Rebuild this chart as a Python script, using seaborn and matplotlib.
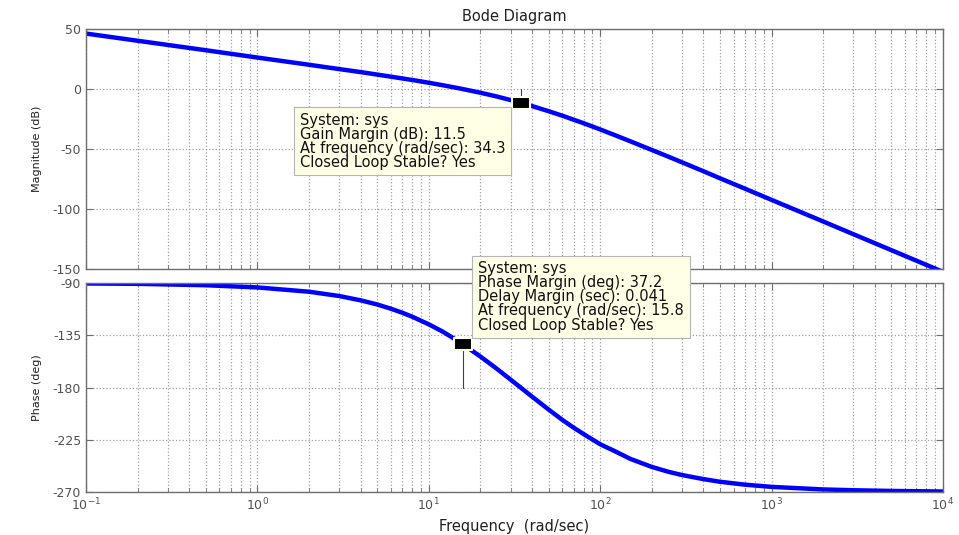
import numpy as np
import pandas as pd
import matplotlib
matplotlib.use('Agg')
import matplotlib.pyplot as plt
import seaborn as sns

# values
freq = [0.1, 0.2, 0.5, 1, 2, 3, 4, 5, 6, 7, 8, 10, 12, 15, 20, 25, 30, 34.3, 40, 50,
        60, 70, 80, 100, 120, 150, 200, 250, 300, 400, 500, 700, 1000, 2000, 3000,
        5000, 10000]
mag_db = [46.2, 40.2, 32.3, 26.2, 20.2, 16.6, 14.1, 12.0, 10.3, 8.8, 7.5, 5.2, 3.2, 0.6,
          -3.1, -6.3, -9.2, -11.5, -14.2, -18.5, -22.2, -25.6, -28.5, -33.7, -38.1,
          -43.6, -50.8, -56.4, -61.1, -68.5, -74.4, -83.1, -92.4, -110.4, -121.0,
          -134.3, -152.4]
phase_deg = [-90.4, -90.7, -91.9, -93.8, -97.5, -101.2, -104.9, -108.5, -112.1, -115.6,
             -119.0, -125.6, -131.7, -140.5, -153.3, -164.0, -173.2, -180.0, -187.8,
             -199.0, -207.8, -214.6, -220.1, -228.9, -234.4, -241.5, -248.4, -252.6,
             -255.4, -258.9, -261.2, -263.7, -265.6, -267.8, -268.5, -269.1, -269.6]

gm_freq, gm_db = 34.3, -11.5
pm_freq, pm_phase = 15.8, -142.8

mag_ticks = [50, 0, -50, -100, -150]
phase_ticks = [-90, -135, -180, -225, -270]

gm_text = "System: sys\nGain Margin (dB): 11.5\nAt frequency (rad/sec): 34.3\nClosed Loop Stable? Yes"
pm_text = ("System: sys\nPhase Margin (deg): 37.2\nDelay Margin (sec): 0.041\n"
           "At frequency (rad/sec): 15.8\nClosed Loop Stable? Yes")

df = pd.DataFrame({'freq': freq, 'mag': mag_db, 'phase': phase_deg})

sns.set_style('ticks')
plt.rcParams['font.family'] = ['DejaVu Sans']
plt.rcParams['axes.unicode_minus'] = False

fig = plt.figure(figsize=(9.59, 5.35), dpi=100)
ax1 = fig.add_axes([0.0897, 0.4972, 0.8936, 0.4486])
ax2 = fig.add_axes([0.0897, 0.0804, 0.8936, 0.3906])

sns.lineplot(data=df, x='freq', y='mag', ax=ax1, color='#0000ff', lw=3.2)
sns.lineplot(data=df, x='freq', y='phase', ax=ax2, color='#0000ff', lw=3.2)

edge = '#6e6e6e'
for ax, lims, ticks in [(ax1, (-150, 50), mag_ticks), (ax2, (-270, -90), phase_ticks)]:
    ax.set_xscale('log')
    ax.set_xlim(0.1, 1e4)
    ax.set_ylim(*lims)
    ax.set_yticks(ticks)
    ax.grid(True, which='both', axis='x', ls=':', color='#a0a0a0', lw=0.9)
    ax.grid(True, which='major', axis='y', ls=':', color='#a0a0a0', lw=0.9)
    ax.tick_params(which='both', direction='in', top=True, right=True,
                   colors=edge, labelcolor='#505050', labelsize=9)
    ax.tick_params(which='major', length=5)
    ax.tick_params(which='minor', length=3)
    for s in ax.spines.values():
        s.set_color(edge)
        s.set_linewidth(1.0)
    ax.set_xlabel('')

ax1.tick_params(labelbottom=False)
ax1.set_ylabel('Magnitude (dB)', fontsize=8, color='#202020', labelpad=8)
ax2.set_ylabel('Phase (deg)', fontsize=8, color='#202020', labelpad=8)
ax2.set_xlabel('Frequency  (rad/sec)', fontsize=10.5, color='#202020', labelpad=4)
ax1.set_title('Bode Diagram', fontsize=10.5, color='#202020', pad=6)

# margin markers and stems
box_marker = [(-1.6, -1), (1.6, -1), (1.6, 1), (-1.6, 1), (-1.6, -1)]
ax1.plot([gm_freq, gm_freq], [0, gm_db], color='#404040', lw=0.8, zorder=4)
ax1.plot([gm_freq], [gm_db], marker=box_marker, ms=13, color='black',
         mec='#fffff0', mew=1.5, zorder=5)
ax2.plot([pm_freq, pm_freq], [-180, pm_phase], color='#404040', lw=0.8, zorder=4)
ax2.plot([pm_freq], [pm_phase], marker=box_marker, ms=13, color='black',
         mec='#fffff0', mew=1.5, zorder=5)

bbox = dict(boxstyle='square,pad=0.4', fc='#ffffe6', ec='#b4b4b4', lw=0.8)
ax1.annotate(gm_text, (gm_freq, gm_db), xytext=(-11, -7), textcoords='offset points',
             ha='right', va='top', multialignment='left', fontsize=10.5, linespacing=0.92,
             color='#111111', bbox=bbox, zorder=6)
ax2.annotate(pm_text, (pm_freq, pm_phase), xytext=(11, 8.5), textcoords='offset points',
             ha='left', va='bottom', multialignment='left', fontsize=10.5, linespacing=0.92,
             color='#111111', bbox=bbox, zorder=6, annotation_clip=False)

fig.savefig('out.png', dpi=100)
